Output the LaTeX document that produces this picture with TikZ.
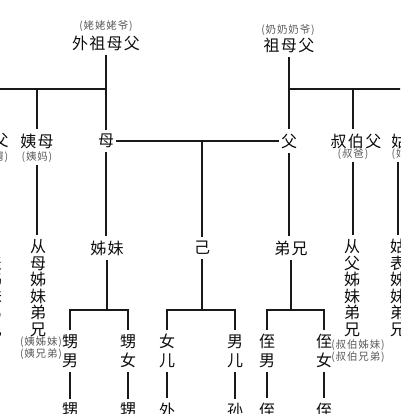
\documentclass[tikz,border=0pt]{standalone}
\usepackage{fontspec}
\newfontfamily\cjk{Noto Sans CJK SC}[LetterSpace=8]
\tikzset{
  kin/.style={font=\cjk\fontsize{16}{16.6}\selectfont, text=black!95,
    inner xsep=2pt, inner ysep=4pt, align=center},
  pair/.style={kin, font=\cjk\fontsize{16}{19}\selectfont},
  note/.style={font=\cjk\fontsize{10.5}{11.5}\selectfont, text=black!65,
    inner xsep=1pt, inner ysep=2pt, align=center},
  link/.style={line width=1.2pt, black!90},
}
\begin{document}
\begin{tikzpicture}[x=1pt,y=-1pt]
    \useasboundingbox (0,0) rectangle (400,414);
    \clip (0,0) rectangle (400,414);
    %grandparents
    \node[note] (wzmfn) at (106,26) {(姥姥姥爷)};
    \node[kin] (wzmf) at (106,43) {外祖母父};
    \node[note] (zmfn) at (288,30) {(奶奶奶爷)};
    \node[kin] (zmf) at (289,45) {祖母父};
    \coordinate (wj) at (106,89);
    \coordinate (zj) at (289,89);
    %parents' generation
    \node[kin] (jiufu) at (-8,141) {舅父};
    \node[note] (jiufun) at (-7,157) {(舅舅)};
    \node[kin] (yimu) at (37,141) {姨母};
    \node[note] (yimun) at (37,157) {(姨妈)};
    \node[kin] (mu) at (106,141) {母};
    \node[kin] (fu) at (289,141) {父};
    \node[kin] (shubo) at (356,141) {叔伯父};
    \node[note] (shubon) at (353,154) {(叔爸)};
    \node[kin] (gumu) at (408,141) {姑母};
    \node[note] (gumun) at (407,154) {(姑妈)};
    \coordinate (jj) at (202,141);
    %mother's side
    \draw[link] (wzmf.south) -- (mu.north);
    \draw[link] (jiufu.north |- wj) -- (wj);
    \draw[link] (jiufu.north |- wj) -- (jiufu.north);
    \draw[link] (yimu.north |- wj) -- (yimu.north);
    %father's side
    \draw[link] (zmf.south) -- (fu.north);
    \draw[link] (zj) -- (gumu.north |- zj) -- (gumu.north);
    \draw[link] (shubon.north |- zj) -- (shubon.north |- shubo.north);
    \draw[link] (mu.east) -- (fu.west);
    %own generation
    \node[kin] (jbz) at (-6,288) {舅\\表\\姊\\妹\\弟\\兄};
    \node[kin] (cmz) at (38,288) {从\\母\\姊\\妹\\弟\\兄};
    \node[note] (cmzn) at (41,348) {(姨姊妹)\\(姨兄弟)};
    \node[kin] (zm) at (107,248) {姊妹};
    \node[kin] (ji) at (202,248) {己};
    \node[kin] (dx) at (291,248) {弟兄};
    \node[kin] (cfz) at (352,288) {从\\父\\姊\\妹\\弟\\兄};
    \node[note] (cfzn) at (358,351) {(叔伯姊妹)\\(叔伯兄弟)};
    \node[kin] (gbz) at (398,288) {姑\\表\\姊\\妹\\弟\\兄};
    \draw[link] (jiufun.south -| jbz) -- (jbz.north);
    \draw[link] (yimun.south) -- (yimun.south |- cmz.north);
    \draw[link] (mu.south) -- (mu.south |- zm.north);
    \draw[link] (jj) -- (ji.north);
    \draw[link] (fu.south) -- (fu.south |- dx.north);
    \draw[link] (shubon.south) -- (shubon.south |- cfz.north);
    \draw[link] (gbz.north |- gumun.south) -- (gbz.north);
    %children
    \coordinate (zmj) at (107,310);
    \coordinate (jij) at (202,310);
    \coordinate (dxj) at (291,310);
    \node[pair] (smn) at (70,351) {甥\\男};
    \node[pair] (snv) at (128,351) {甥\\女};
    \node[pair] (nr) at (167,351) {女\\儿};
    \node[pair] (ner) at (235,351) {男\\儿};
    \node[pair] (zn) at (267,351) {侄\\男};
    \node[pair] (znv) at (324,351) {侄\\女};
    \draw[link] (zm.south) -- (zmj);
    \draw[link] (ji.south) -- (jij);
    \draw[link] (dx.south) -- (dxj);
    \draw[link] (smn.north) |- (zmj) -| (snv.north);
    \draw[link] (nr.north) |- (jij) -| (ner.north);
    \draw[link] (zn.north) |- (dxj) -| (znv.north);
    %grandchildren
    \node[kin] (smb) at (70,410) {甥};
    \node[kin] (snb) at (128,410) {甥};
    \node[kin] (nrb) at (167,410) {外};
    \node[kin] (nerb) at (235,410) {孙};
    \node[kin] (znb) at (267,410) {侄};
    \node[kin] (znvb) at (324,410) {侄};
    \foreach \a/\b in {smn/smb,snv/snb,nr/nrb,ner/nerb,zn/znb,znv/znvb}
      \draw[link] (\a.south) -- (\b.north);
\end{tikzpicture}
\end{document}
